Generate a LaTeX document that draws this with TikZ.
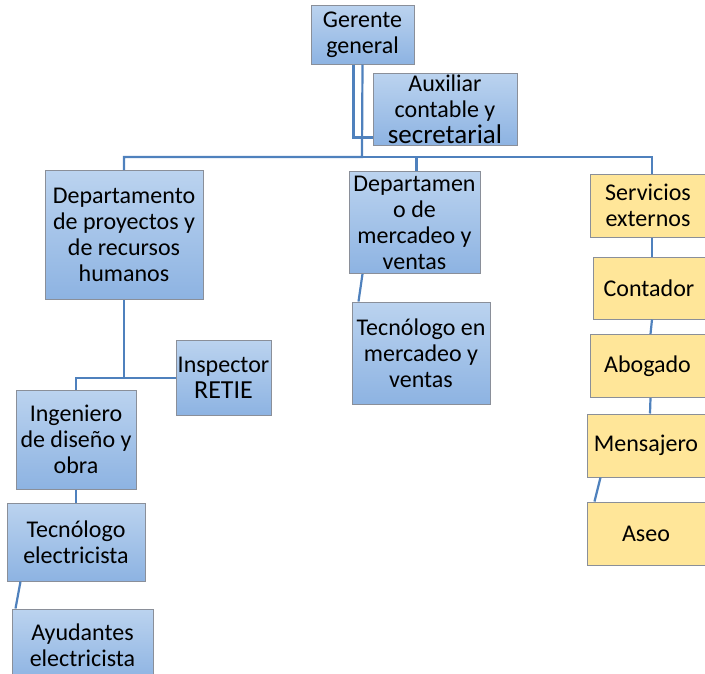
\documentclass[tikz,border=0pt]{standalone}
\usepackage{fontspec}
\setmainfont{Carlito}
\definecolor{azulA}{HTML}{BBD3EF}
\definecolor{azulB}{HTML}{8DB3E2}
\definecolor{amarillo}{HTML}{FFE699}
\definecolor{linea}{HTML}{4F81BD}
\definecolor{borde}{HTML}{8A8F99}
\begin{document}
\begin{tikzpicture}[x=1pt, y=-1pt]

\tikzstyle{every node} = [rectangle, inner sep=0pt, align=center, font=\fontsize{24}{26}\selectfont]
\tikzstyle{azul} = [draw=borde, line width=1pt, top color=azulA, bottom color=azulB]
\tikzstyle{ama} = [draw=borde, line width=1pt, fill=amarillo]
\tikzstyle{con} = [draw=linea, line width=2.2pt]

\useasboundingbox (0,0) rectangle (705,673);

\node[azul, minimum width=103, minimum height=59] (g) at (362.5,34.5) {Gerente\\general};
\node[azul, minimum width=144, minimum height=72] (a) at (445,109) {Auxiliar\\contable y\\{\fontsize{27}{27}\selectfont secretarial}};

\node[azul, minimum width=158, minimum height=129] (p) at (124,235) {Departamento\\de proyectos y\\de recursos\\humanos};
\node[azul, minimum width=131, minimum height=102] (m) at (414.5,222.5) {Departamen\\o de\\mercadeo y\\ventas};
\node[ama, minimum width=115, minimum height=63] (s) at (648,205.5) {Servicios\\externos};

\node[azul, minimum width=95, minimum height=75] (i) at (223.5,377.5) {Inspector\\{\fontsize{26}{28}\selectfont RETIE}};
\node[azul, minimum width=120, minimum height=99] (e) at (76,439.5) {Ingeniero\\de diseño y\\obra};
\node[azul, minimum width=138, minimum height=78] (t) at (76,542) {Tecnólogo\\electricista};
\node[azul, minimum width=141, minimum height=72] (h) at (82.5,645) {Ayudantes\\electricista};

\node[azul, minimum width=138, minimum height=102] (v) at (421,353) {Tecnólogo en\\mercadeo y\\ventas};

\node[ama, minimum width=112, minimum height=62] (c) at (649,288) {Contador};
\node[ama, minimum width=115, minimum height=63] (b) at (647.5,366) {Abogado};
\node[ama, minimum width=118, minimum height=63] (n) at (646,445.5) {Mensajero};
\node[ama, minimum width=118, minimum height=63] (z) at (646,533.5) {Aseo};

\coordinate (hub) at (362,157);
\coordinate (j) at (124,378);

\draw[con] ([xshift=-9pt]g.south) |- ([yshift=8pt]a.south west);
\draw[con] (g.south) -- (hub) -| (p.north);
\draw[con] (hub) -| ([xshift=2pt]m.north);
\draw[con] (hub) -| ([xshift=4pt]s.north);

\draw[con] (p.south) -- (j) -- (i.west |- j);
\draw[con] (j) -| (e.north);
\draw[con] (e.south) -- (t.north);
\draw[con] ([xshift=14pt]t.south west) -- ([xshift=4pt]h.north west);

\draw[con] ([xshift=14pt]m.south west) -- ([xshift=7pt]v.north west);

\draw[con] ([xshift=4pt]s.south) -- ([xshift=3pt]c.north);
\draw[con] ([xshift=3pt]c.south) -- ([xshift=3pt]b.north);
\draw[con] ([xshift=3pt]b.south) -- ([xshift=4pt]n.north);
\draw[con] ([xshift=14pt]n.south west) -- ([xshift=8pt]z.north west);
\end{tikzpicture}
\end{document}
